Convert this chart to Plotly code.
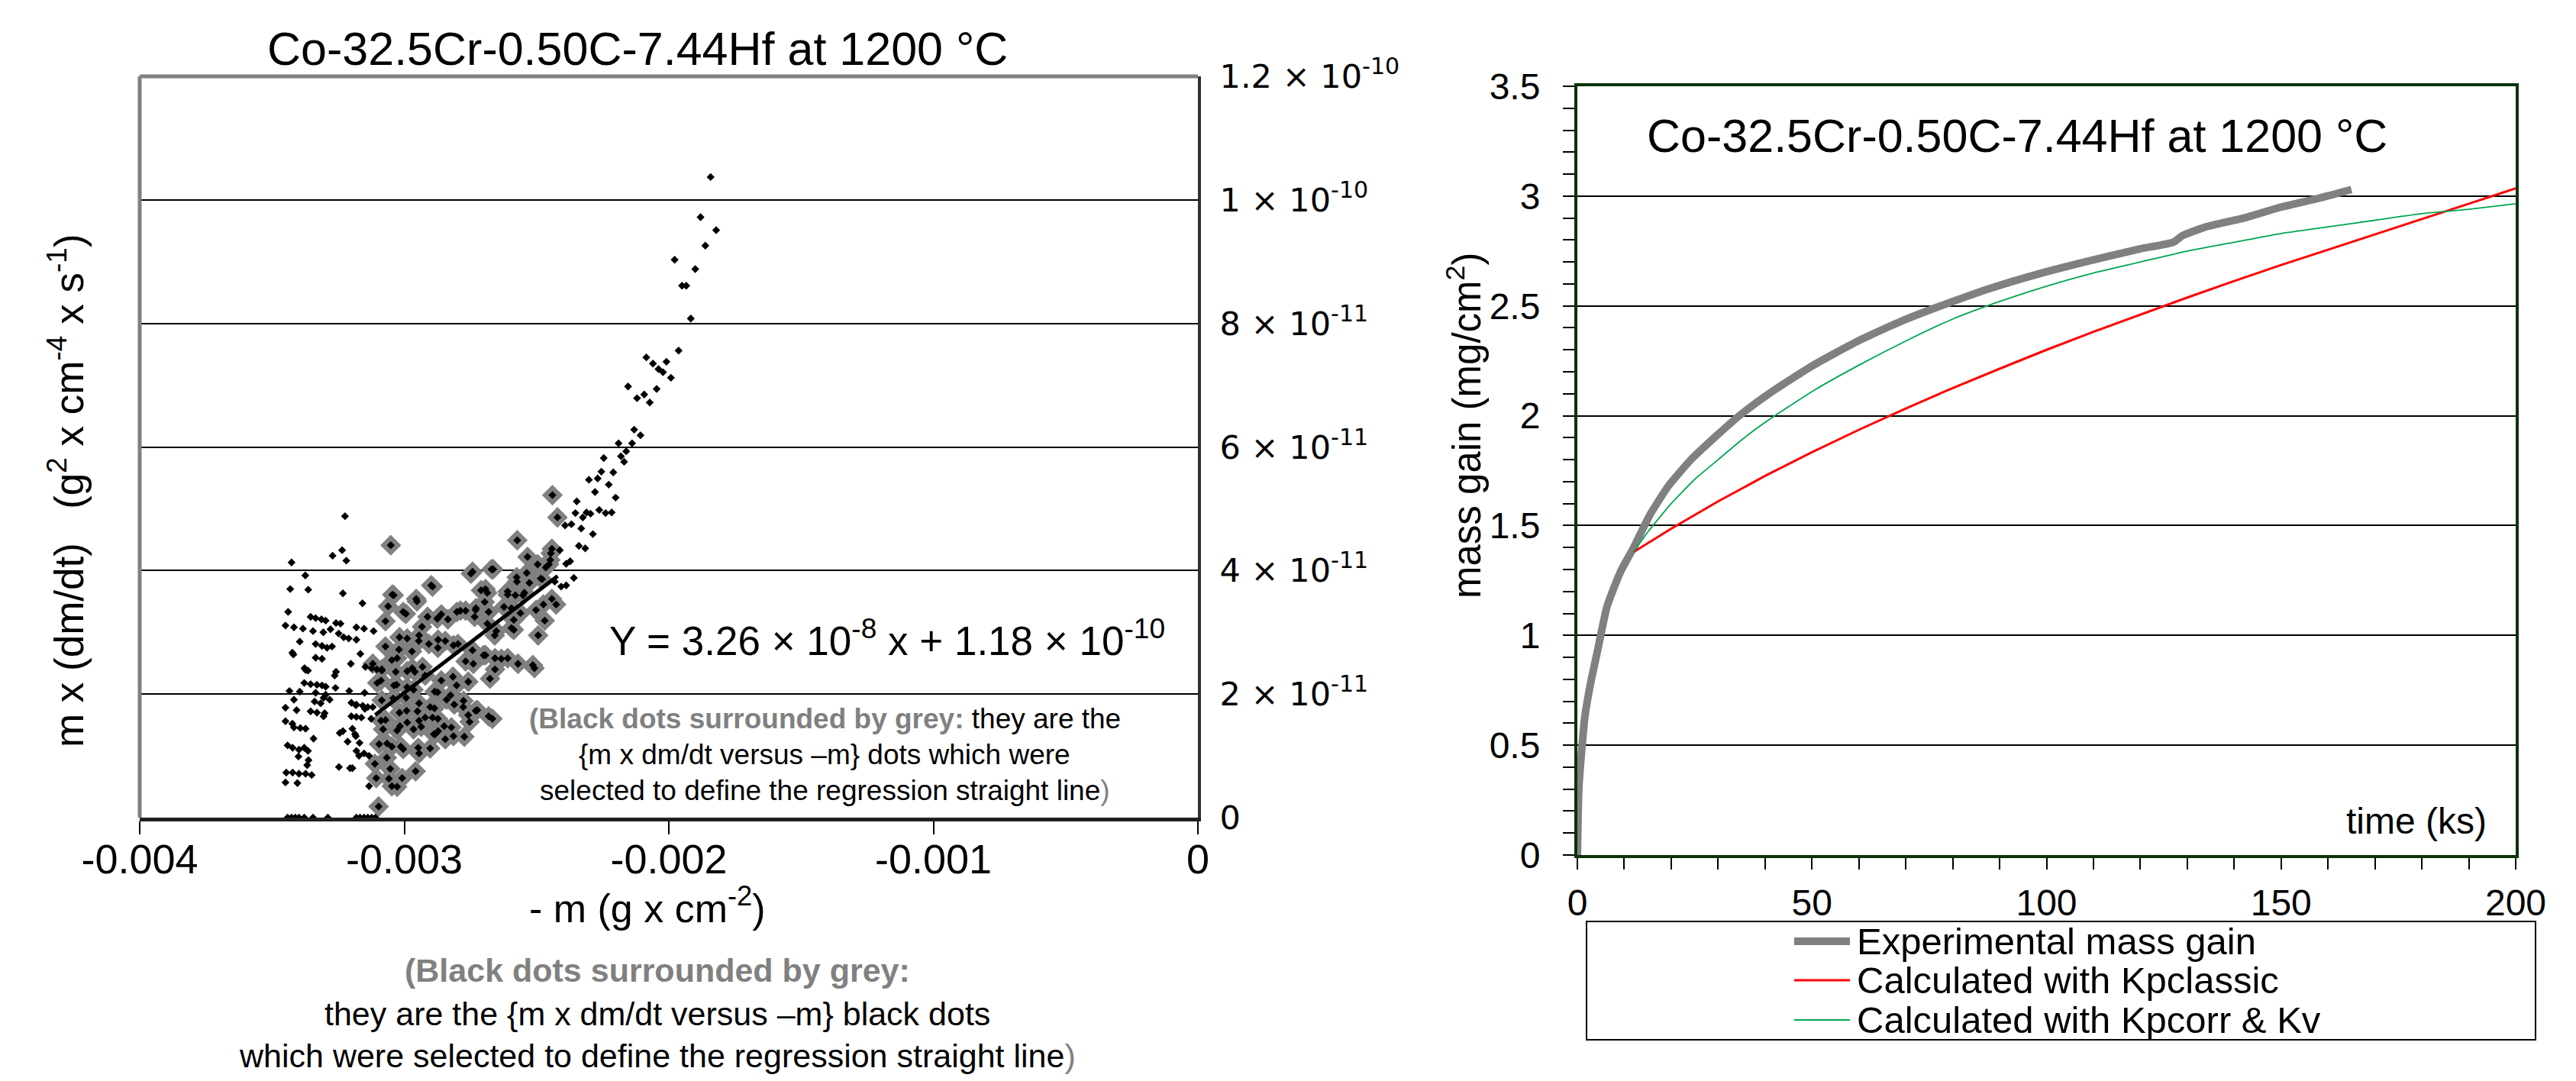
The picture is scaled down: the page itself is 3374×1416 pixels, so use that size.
import numpy as np
import plotly.graph_objects as go

W, H = 3374, 1416
OFF = 8  # page body margin compensation

# ---------------- Left chart data ----------------
TITLE = "Co-32.5Cr-0.50C-7.44Hf at 1200 °C"
# -m in 1e-3 g/cm2, m*dm/dt in 1e-11 g2 cm-4 s-1
other_x = [-1.842, -1.880, -1.821, -1.862, -1.978, -1.900, -1.950, -1.934, -1.917, -1.963,
           -2.085, -2.060, -2.009, -2.039, -2.022, -1.992, -2.154, -2.046, -2.093, -2.120,
           -2.072, -2.131, -2.107, -2.190, -2.139, -2.161, -2.181, -2.169, -2.246, -2.255,
           -2.210, -2.302, -2.269, -2.227, -2.279, -2.201, -2.348, -2.263, -2.353, -2.311,
           -2.296, -2.325, -2.239, -2.216, -2.392, -2.368, -2.331, -2.287, -2.340, -2.316,
           -2.412, -2.388, -2.373, -2.359, -2.388, -2.407, -2.431,
           -3.224, -3.426, -3.271, -3.235, -3.219, -3.374, -3.431, -3.363, -3.232, -3.158,
           -3.439, -3.449, -3.417, -3.383, -3.354, -3.335, -3.313, -3.297, -3.345, -3.306,
           -3.279, -3.258, -3.241, -3.248, -3.229, -3.210, -3.181, -3.181, -3.152, -3.116,
           -3.395, -3.335, -3.311, -3.292, -3.273, -3.419, -3.335, -3.311, -3.166, -3.202,
           -3.373, -3.364, -3.258, -3.263, -3.147, -3.123, -3.104, -3.085, -3.378, -3.354,
           -3.330, -3.311, -3.297, -3.260, -3.434, -3.395, -3.335, -3.297, -3.282, -3.208,
           -3.150, -3.417, -3.316, -3.200, -3.181, -3.157, -3.138, -3.119, -3.449, -3.407,
           -3.354, -3.330, -3.301, -3.200, -3.181, -3.162, -3.125, -3.449, -3.417, -3.393,
           -3.373, -3.343, -3.244, -3.196, -3.186, -3.214, -3.169, -3.441, -3.422, -3.398,
           -3.378, -3.364, -3.181, -3.171, -3.152, -3.133, -3.367, -3.247, -3.205, -3.196,
           -3.446, -3.422, -3.398, -3.373, -3.350, -3.449, -3.404, -3.133,
           -3.423, -3.377, -3.305, -3.339, -3.232, -3.183, -3.400, -3.362, -3.305, -3.183,
           -3.149, -3.423,
           -3.441, -3.426, -3.412, -3.398, -3.378, -3.345, -3.289, -3.181, -3.167, -3.152,
           -3.138, -3.123, -3.109]
other_y = [10.37, 9.72, 9.51, 9.26, 9.03, 8.88, 8.61, 8.61, 8.08, 7.56,
           7.45, 7.35, 7.38, 7.26, 7.21, 7.12, 6.98, 6.94, 6.85, 6.79,
           6.72, 6.28, 6.19, 6.06, 6.06, 5.93, 5.85, 5.76, 5.82, 5.60,
           5.59, 5.47, 5.49, 5.39, 5.27, 5.18, 5.12, 4.98, 4.93, 4.94,
           4.92, 4.86, 4.93, 4.94, 4.73, 4.75, 4.68, 4.59, 4.40, 4.36,
           4.33, 4.11, 4.15, 3.88, 3.76, 3.74, 3.82,
           4.88, 4.13, 4.24, 4.33, 4.16, 3.92, 3.70, 3.69, 3.63, 3.47,
           3.33, 3.11, 3.08, 3.06, 3.25, 3.23, 3.21, 3.19, 3.02, 3.00,
           3.05, 3.15, 3.14, 2.98, 2.92, 2.90, 2.88, 3.08, 3.06, 3.02,
           2.85, 2.81, 2.78, 2.75, 2.77, 2.64, 2.59, 2.57, 2.65, 2.49,
           2.39, 2.38, 2.36, 2.30, 2.44, 2.42, 2.40, 2.38, 2.18, 2.16,
           2.15, 2.14, 2.12, 2.10, 2.05, 2.04, 2.02, 1.99, 1.91, 2.05,
           2.02, 1.91, 1.85, 1.86, 1.83, 1.81, 1.79, 1.79, 1.78, 1.74,
           1.72, 1.70, 1.69, 1.64, 1.63, 1.62, 1.60, 1.56, 1.46, 1.45,
           1.44, 1.28, 1.37, 1.44, 1.35, 1.23, 1.21, 1.17, 1.13, 1.10,
           1.13, 1.08, 1.08, 1.00, 1.04, 1.00, 0.85, 0.82, 0.80, 0.80,
           0.73, 0.73, 0.71, 0.71, 0.69, 0.57, 0.56, 0.51,
           2.67, 2.42, 1.94, 1.88, 1.40, 1.32, 0.99, 0.93, 1.64, 1.82,
           1.76, 1.52,
           0.0, 0.0, 0.0, 0.0, 0.0, 0.0, 0.0, 0.0, 0.0, 0.0,
           0.0, 0.0, 0.0]
sel_x = [-2.440, -2.421,
         -3.051, -2.893, -3.040, -3.061, -3.071, -2.952, -2.994, -2.912, -2.875, -2.933,
         -3.018, -2.989, -2.945, -2.907, -2.873, -3.071, -3.020, -2.971, -3.047, -3.119,
         -3.085, -3.032, -2.989, -2.960, -2.931, -3.102, -3.029, -2.989, -2.965, -2.885,
         -3.085, -3.042, -3.018, -2.991, -2.950, -2.921, -2.873, -3.071, -3.080, -3.027,
         -2.989, -2.965, -2.936, -2.888, -3.095, -3.047, -3.013, -2.947, -2.902, -3.066,
         -3.106, -3.058, -3.008, -2.957, -3.047, -3.027, -3.097,
         -2.573, -2.534, -2.496, -2.465, -2.446, -2.448, -2.748, -2.664, -2.575, -2.527,
         -2.484, -2.710, -2.686, -2.609, -2.580, -2.546, -2.696, -2.474, -2.426, -2.729,
         -2.623, -2.595, -2.561, -2.469, -2.801, -2.768, -2.734, -2.835, -2.874, -2.686,
         -2.595, -2.652, -2.494, -2.845, -2.797, -2.700, -2.657, -2.633, -2.768, -2.739,
         -2.570, -2.508, -2.657, -2.676, -2.816, -2.758, -2.874, -2.840, -2.811, -2.777,
         -2.667, -2.724, -2.758, -2.902, -2.893, -2.849, -2.822, -2.753, -2.773, -2.883,
         -2.845,
         -3.045, -2.955, -3.004, -2.898, -2.860, -2.788, -2.730, -2.681, -2.742, -2.670,
         -2.693, -2.609, -2.551, -2.574, -2.537, -2.442, -2.453, -2.479, -2.586, -2.502,
         -2.442, -2.658, -2.586, -2.944, -2.872, -2.814, -2.742, -2.693, -2.609, -2.514,
         -3.027, -2.970, -2.921, -2.860, -2.802, -3.088, -3.039, -2.993, -2.944, -2.886,
         -2.825, -2.776, -2.730, -2.681, -3.088, -3.016, -2.944, -2.872, -2.814, -3.065,
         -3.004, -2.944, -3.111, -3.053]
sel_y = [5.22, 4.86,
         4.41, 3.74, 3.60, 3.42, 3.18, 3.50, 3.30, 3.25, 3.22, 3.09,
         2.92, 2.90, 2.86, 2.81, 2.75, 2.77, 2.72, 2.69, 2.55, 2.49,
         2.40, 2.36, 2.37, 2.36, 2.44, 2.18, 2.15, 2.11, 2.07, 2.04,
         1.90, 1.93, 1.70, 1.73, 1.72, 1.62, 1.60, 1.58, 1.43, 1.41,
         1.54, 1.43, 1.47, 1.35, 1.19, 1.15, 1.15, 1.13, 1.12, 0.97,
         0.64, 0.63, 0.64, 0.75, 0.51, 0.50, 0.18,
         4.49, 4.22, 4.10, 4.05, 4.28, 4.17, 3.95, 4.02, 3.89, 3.80,
         3.87, 3.68, 3.64, 3.66, 3.60, 3.64, 3.49, 3.45, 3.45, 3.39,
         3.41, 3.39, 3.31, 3.19, 3.33, 3.35, 3.25, 3.21, 3.23, 3.14,
         3.07, 3.02, 2.95, 2.86, 2.81, 2.63, 2.58, 2.57, 2.53, 2.49,
         2.49, 2.42, 2.40, 2.25, 2.28, 2.20, 2.03, 1.91, 1.83, 1.79,
         1.60, 1.74, 1.66, 1.79, 1.62, 1.48, 1.46, 1.55, 1.31, 1.35,
         1.27,
         3.61, 3.54, 3.33, 3.76, 3.29, 3.35, 3.36, 3.33, 3.98, 4.02,
         3.70, 3.61, 3.60, 3.82, 3.96, 4.35, 4.10, 3.86, 3.20, 3.36,
         3.54, 2.95, 3.04, 2.95, 2.88, 2.79, 2.71, 2.63, 2.58, 2.47,
         2.58, 2.42, 2.30, 2.22, 2.14, 2.22, 2.14, 1.94, 1.85, 1.77,
         1.98, 1.89, 1.73, 1.64, 1.57, 1.48, 1.57, 1.40, 1.32, 1.20,
         1.11, 1.04, 0.87, 0.79]
REG_SLOPE = 3.26e-8
REG_INTERCEPT = 1.18e-10
REG_X_RANGE = [-3.11e-3, -2.42e-3]

left_xticks = [-0.004, -0.003, -0.002, -0.001, 0]
left_xtext = ["-0.004", "-0.003", "-0.002", "-0.001", "0"]
left_yticks = [0, 2e-11, 4e-11, 6e-11, 8e-11, 1e-10, 1.2e-10]
left_ytext = ["0", "2 × 10<sup>-11</sup>", "4 × 10<sup>-11</sup>", "6 × 10<sup>-11</sup>",
              "8 × 10<sup>-11</sup>", "1 × 10<sup>-10</sup>", "1.2 × 10<sup>-10</sup>"]

# ---------------- Right chart data ----------------
exp_t = [0, 0.3, 0.7, 1.6, 2.8, 4.4, 6.3, 9.2, 12, 15.5, 19.4, 24.2, 29.7, 34.5, 40.8, 50.3,
         59.8, 69, 78.7, 88, 99, 110, 120, 127, 129, 134, 142, 150, 158, 165]
exp_m = [0, 0.30, 0.42, 0.63, 0.78, 0.94, 1.13, 1.29, 1.40, 1.55, 1.68, 1.80, 1.91, 2.00, 2.10, 2.23,
         2.34, 2.43, 2.51, 2.58, 2.65, 2.71, 2.76, 2.79, 2.82, 2.86, 2.90, 2.95, 2.99, 3.03]
kpc_t = [12, 20, 30, 40, 50, 60, 70, 80, 90, 100, 110, 120, 130, 140, 150, 160, 170, 180, 190, 200]
kpc_m = [1.380, 1.486, 1.610, 1.726, 1.834, 1.936, 2.033, 2.126, 2.214, 2.300, 2.382, 2.461,
         2.538, 2.613, 2.686, 2.756, 2.825, 2.895, 2.965, 3.035]
kv_t = [12, 15, 20, 25, 30, 35, 40, 50, 60, 70, 80, 90, 100, 110, 120, 130, 140, 150, 160, 170,
        180, 190, 200]
kv_m = [1.38, 1.47, 1.60, 1.71, 1.80, 1.89, 1.97, 2.11, 2.23, 2.34, 2.44, 2.52, 2.59, 2.65, 2.70,
        2.75, 2.79, 2.83, 2.86, 2.89, 2.92, 2.94, 2.965]
series_names = ["Experimental mass gain", "Calculated with Kpclassic", "Calculated with Kpcorr & Kv"]
series_colors = ["#808080", "#FF0000", "#00A651"]
series_widths = [10, 3, 1.8]

ARIAL = "Liberation Sans, Arial, sans-serif"
NARROW = "Liberation Sans, Arial, sans-serif"
WIDE = "DejaVu Sans, Verdana, sans-serif"


def px(x):
    return (x - OFF) / W


def py(y):
    return 1 - (y - OFF) / H


fig = go.Figure()

# left scatter
fig.add_trace(go.Scatter(
    x=np.array(sel_x) * 1e-3, y=np.array(sel_y) * 1e-11, mode="markers",
    marker=dict(symbol="diamond", size=21, color="#808080"), cliponaxis=False,
    showlegend=False, xaxis="x", yaxis="y"))
fig.add_trace(go.Scatter(
    x=np.array(other_x + sel_x) * 1e-3, y=np.array(other_y + sel_y) * 1e-11, mode="markers",
    marker=dict(symbol="diamond", size=8, color="black"), cliponaxis=False,
    showlegend=False, xaxis="x", yaxis="y"))
reg_x = np.array(REG_X_RANGE)
fig.add_trace(go.Scatter(
    x=reg_x, y=REG_SLOPE * reg_x + REG_INTERCEPT, mode="lines",
    line=dict(color="black", width=5), showlegend=False, xaxis="x", yaxis="y"))

# right curves
shapes_line = ["spline", "linear", "spline"]
for t, m, name, col, w, sh in zip([exp_t, kpc_t, kv_t], [exp_m, kpc_m, kv_m],
                                  series_names, series_colors, series_widths, shapes_line):
    fig.add_trace(go.Scatter(x=t, y=m, mode="lines", name=name,
                             line=dict(color=col, width=w, shape=sh, smoothing=0.5),
                             showlegend=False, xaxis="x2", yaxis="y2"))

LD = [px(183), px(1569)]
LY = [py(1071), py(100)]
RD = [px(2066), px(3295)]
RY = [py(1120), py(113)]

fig.update_layout(
    width=W, height=H, margin=dict(l=0, r=0, t=0, b=0, autoexpand=False),
    paper_bgcolor="white", plot_bgcolor="white",
    xaxis=dict(domain=LD, anchor="y", range=[-0.004, 0], tickvals=left_xticks, ticktext=left_xtext,
               ticks="outside", ticklen=17, tickwidth=2, tickcolor="black", automargin=False,
               showline=True, linecolor="#202020", linewidth=5, showgrid=False, zeroline=False,
               tickfont=dict(family=NARROW, size=54, color="black"), ticklabelstandoff=-14),
    yaxis=dict(domain=LY, anchor="x", side="right", range=[0, 1.2e-10], automargin=False,
               tickvals=left_yticks, ticktext=left_ytext, ticks="",
               showline=True, linecolor="#303030", linewidth=4,
               showgrid=True, gridcolor="black", gridwidth=2, zeroline=False,
               tickfont=dict(family=WIDE, size=43, color="black"), ticklabelstandoff=16),
    xaxis2=dict(domain=RD, anchor="y2", range=[0, 200], tickvals=[0, 50, 100, 150, 200],
                ticks="outside", ticklen=15, tickwidth=2, tickcolor="black", automargin=False,
                minor=dict(dtick=10, ticks="outside", ticklen=15, tickwidth=2, tickcolor="black",
                           showgrid=False),
                showline=True, linecolor="#0A330A", linewidth=4, mirror=True,
                showgrid=False, zeroline=False,
                tickfont=dict(family=ARIAL, size=48, color="black"), ticklabelstandoff=2),
    yaxis2=dict(domain=RY, anchor="x2", range=[0, 3.5], dtick=0.5, automargin=False,
                ticks="outside", ticklen=15, tickwidth=2, tickcolor="black",
                minor=dict(dtick=0.1, ticks="outside", ticklen=15, tickwidth=2, tickcolor="black",
                           showgrid=False),
                showline=True, linecolor="#0A330A", linewidth=4, mirror=True,
                showgrid=True, gridcolor="black", gridwidth=2, zeroline=False,
                tickfont=dict(family=ARIAL, size=48, color="black"), ticklabelstandoff=20),
)

shapes = [
    # grey left & top frame of left chart
    dict(type="line", xref="x domain", yref="y domain", x0=0, x1=0, y0=0, y1=1,
         line=dict(color="#808080", width=5)),
    dict(type="line", xref="x domain", yref="y domain", x0=0, x1=1, y0=1, y1=1,
         line=dict(color="#808080", width=5)),
    # legend box
    dict(type="rect", xref="paper", yref="paper", x0=px(2078), x1=px(3321), y0=py(1362), y1=py(1207),
         line=dict(color="black", width=2), fillcolor="rgba(0,0,0,0)"),
]
legend_rows = [1233, 1284, 1336]
for yy, col, w in zip(legend_rows, series_colors, series_widths):
    shapes.append(dict(type="line", xref="paper", yref="paper", x0=px(2350), x1=px(2423),
                       y0=py(yy), y1=py(yy), line=dict(color=col, width=w)))
fig.update_layout(shapes=shapes)

GREY = "#808080"
ann = [
    dict(x=px(835), y=py(64), text=TITLE, font=dict(family=ARIAL, size=61, color="black")),
    dict(x=px(86), y=py(643), text="m x (dm/dt)&nbsp;&nbsp;&nbsp;(g<sup>2</sup> x cm<sup>-4</sup> x s<sup>-1</sup>)",
         textangle=-90, font=dict(family=ARIAL, size=53, color="black")),
    dict(x=px(848), y=py(1186), text="- m (g x cm<sup>-2</sup>)",
         font=dict(family=NARROW, size=52, color="black")),
    dict(x=px(1162), y=py(835), text="Y = 3.26 × 10<sup>-8</sup> x + 1.18 × 10<sup>-10</sup>",
         font=dict(family=NARROW, size=53, color="black")),
    dict(x=px(1080), y=py(941),
         text=f"<span style='color:{GREY}'><b>(Black dots surrounded by grey:</b></span> they are the",
         font=dict(family=NARROW, size=37, color="black")),
    dict(x=px(1080), y=py(988), text="{m x dm/dt versus –m} dots which were",
         font=dict(family=NARROW, size=37, color="black")),
    dict(x=px(1080), y=py(1035),
         text=f"selected to define the regression straight line<span style='color:{GREY}'>)</span>",
         font=dict(family=NARROW, size=37, color="black")),
    dict(x=px(861), y=py(1271), text=f"<b>(Black dots surrounded by grey:</b>",
         font=dict(family=NARROW, size=43, color=GREY)),
    dict(x=px(861), y=py(1328), text="they are the {m x dm/dt versus –m} black dots",
         font=dict(family=NARROW, size=43, color="black")),
    dict(x=px(861), y=py(1383),
         text=f"which were selected to define the regression straight line<span style='color:{GREY}'>)</span>",
         font=dict(family=NARROW, size=43, color="black")),
    # right chart texts
    dict(x=px(2642), y=py(178), text=TITLE, font=dict(family=ARIAL, size=61, color="black")),
    dict(x=px(3259), y=py(1075), text="time (ks)", xanchor="right",
         font=dict(family=ARIAL, size=48, color="black")),
    dict(x=px(1918), y=py(558), text="mass gain (mg/cm<sup>2</sup>)", textangle=-90,
         font=dict(family=ARIAL, size=51, color="black")),
]
for yy, name in zip(legend_rows, series_names):
    ann.append(dict(x=px(2430), y=py(yy), text=name, xanchor="left",
                    font=dict(family=ARIAL, size=49, color="black")))
for a in ann:
    a.setdefault("xref", "paper")
    a.setdefault("yref", "paper")
    a.setdefault("showarrow", False)
    a.setdefault("xanchor", "center")
    a.setdefault("yanchor", "middle")
fig.update_layout(annotations=ann)

fig.write_html("out.html")
